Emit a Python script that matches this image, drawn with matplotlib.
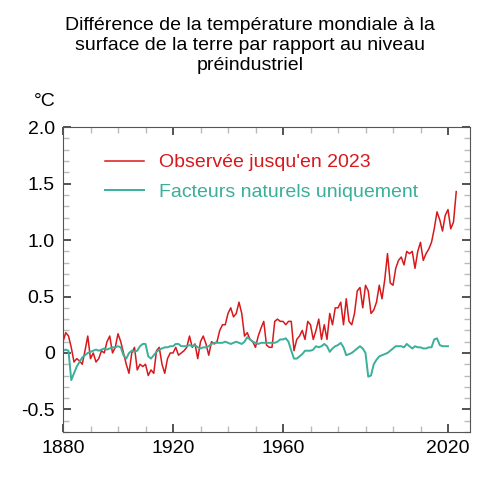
import matplotlib.pyplot as plt
from matplotlib.ticker import MultipleLocator

plt.rcParams['font.family'] = ['Liberation Sans', 'DejaVu Sans']

years_obs = list(range(1880, 2024))
observed = [
    0.10, 0.18, 0.15, 0.05, -0.08, -0.05, -0.07, -0.10, 0.02, 0.15,
    -0.05, 0.00, -0.08, -0.05, 0.02, 0.00, 0.10, 0.15, 0.00, 0.05,
    0.17, 0.10, 0.00, -0.10, -0.18, 0.00, 0.05, -0.15, -0.10, -0.12,
    -0.10, -0.20, -0.15, -0.18, 0.02, 0.05, -0.10, -0.18, -0.05, 0.00,
    0.00, 0.05, -0.02, 0.00, 0.02, 0.05, 0.15, 0.05, 0.08, -0.05,
    0.10, 0.15, 0.08, -0.02, 0.10, 0.08, 0.10, 0.20, 0.25, 0.25,
    0.35, 0.40, 0.32, 0.35, 0.45, 0.35, 0.15, 0.18, 0.12, 0.10,
    0.05, 0.15, 0.22, 0.28, 0.07, 0.05, 0.05, 0.28, 0.30, 0.28,
    0.28, 0.25, 0.28, 0.28, 0.02, 0.12, 0.15, 0.20, 0.12, 0.28,
    0.25, 0.12, 0.20, 0.30, 0.12, 0.25, 0.12, 0.35, 0.25, 0.40,
    0.40, 0.45, 0.25, 0.48, 0.28, 0.25, 0.35, 0.55, 0.58, 0.40,
    0.60, 0.55, 0.35, 0.38, 0.45, 0.60, 0.48, 0.65, 0.88, 0.62,
    0.60, 0.75, 0.82, 0.85, 0.78, 0.90, 0.88, 0.90, 0.75, 0.90,
    0.98, 0.82, 0.88, 0.92, 0.98, 1.10, 1.25, 1.18, 1.08, 1.22,
    1.27, 1.10, 1.16, 1.43,
]

years_nat = list(range(1880, 2021))
natural = [
    0.02, 0.03, 0.02, -0.24, -0.18, -0.12, -0.08, -0.04, -0.02, 0.00,
    0.01, 0.02, 0.03, 0.02, 0.03, 0.04, 0.03, 0.04, 0.05, 0.05,
    0.06, 0.05, -0.02, -0.05, 0.00, 0.02, 0.01, 0.02, 0.06, 0.08,
    0.08, -0.03, -0.05, -0.02, 0.01, 0.03, 0.04, 0.05, 0.05, 0.06,
    0.06, 0.08, 0.08, 0.06, 0.06, 0.06, 0.07, 0.06, 0.07, 0.05,
    0.04, 0.05, 0.05, 0.06, 0.08, 0.09, 0.09, 0.09, 0.09, 0.10,
    0.09, 0.08, 0.09, 0.10, 0.09, 0.08, 0.10, 0.14, 0.12, 0.10,
    0.09, 0.08, 0.09, 0.09, 0.09, 0.09, 0.09, 0.09, 0.10, 0.12,
    0.12, 0.13, 0.10, 0.02, -0.05, -0.05, -0.03, -0.01, 0.02, 0.02,
    0.02, 0.03, 0.06, 0.05, 0.06, 0.08, 0.06, 0.01, 0.04, 0.06,
    0.07, 0.09, 0.05, -0.02, -0.01, 0.00, 0.02, 0.04, 0.06, 0.04,
    0.00, -0.21, -0.20, -0.10, -0.06, -0.03, -0.02, -0.01, 0.00, 0.02,
    0.04, 0.06, 0.06, 0.06, 0.05, 0.08, 0.06, 0.04, 0.06, 0.05,
    0.05, 0.04, 0.04, 0.05, 0.05, 0.12, 0.13, 0.07, 0.06, 0.06,
    0.06,
]

red = '#d7191c'
teal = '#3aaf9a'

fig = plt.figure(figsize=(5, 4.8), dpi=100)
ax = fig.add_axes([0.126, 0.1, 0.814, 0.635])
ax.plot(years_obs, observed, color=red, lw=1.1, label="Observée jusqu'en 2023")
ax.plot(years_nat, natural, color=teal, lw=1.4, label='Facteurs naturels uniquement')

ax.set_xlim(1880, 2028)
ax.set_ylim(-0.7, 2.0)
ax.set_xticks([1880, 1920, 1960, 2020])
ax.xaxis.set_minor_locator(MultipleLocator(10))
ax.yaxis.set_major_locator(MultipleLocator(0.5))
ax.yaxis.set_minor_locator(MultipleLocator(0.1))
ax.set_yticklabels(['-0.5' if v < 0 else ('0' if v == 0 else f'{v:.1f}') for v in ax.get_yticks()])
ax.tick_params(which='both', direction='in', top=True, right=True, labelsize=14)
ax.tick_params(which='major', length=6, width=1.3, color='#444444', pad=6)
ax.tick_params(which='minor', length=4, width=1, color='#bbbbbb')
for s in ax.spines.values():
    s.set_color('#555555')

ax.legend(loc='upper left', bbox_to_anchor=(0.06, 0.97), frameon=False, fontsize=14,
          handlelength=2.0, labelspacing=0.6, labelcolor=[red, teal])

fig.text(0.5, 0.965, "Différence de la température mondiale à la\nsurface de la terre par rapport au niveau\npréindustriel",
         ha='center', va='top', fontsize=14, linespacing=1.25)
fig.text(0.068, 0.78, '°C', fontsize=14)

fig.savefig('out.png')
